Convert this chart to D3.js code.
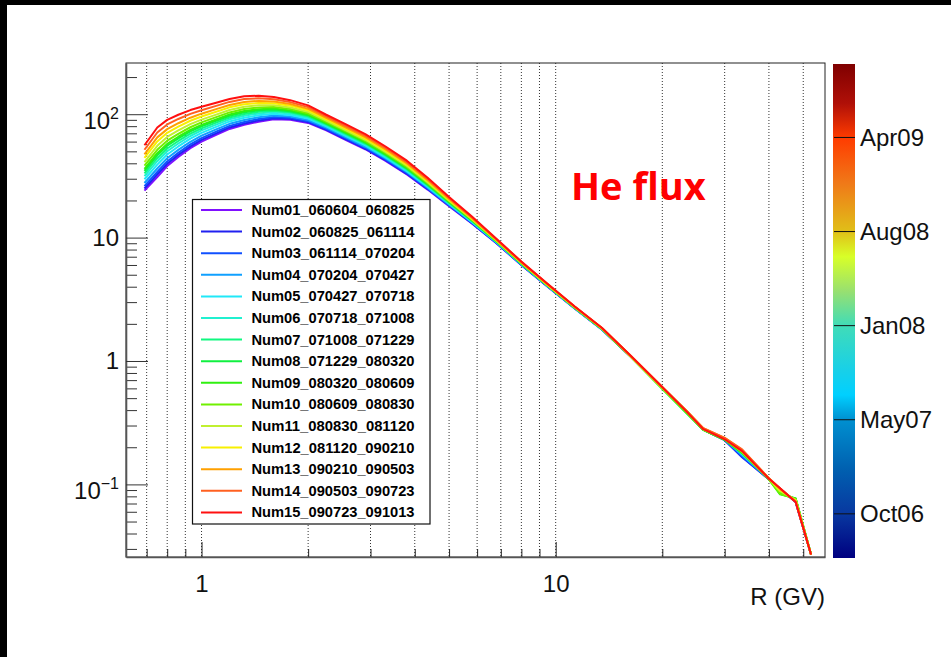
<!DOCTYPE html>
<html>
<head>
<meta charset="utf-8">
<script src="https://cdn.jsdelivr.net/npm/d3@7"></script>
<style>
body { margin: 0; background: #fff; }
svg { display: block; font-family: "Liberation Sans", Arial, Helvetica, sans-serif; }
</style>
</head>
<body>
<svg id="chart" width="951" height="657"></svg>
<script>
// rigidity bin centres (GV)
var rigidity = [0.69, 0.75, 0.80, 0.86, 0.93, 1.0, 1.1, 1.2, 1.32, 1.45, 1.6, 1.78, 2.0, 2.25, 2.55, 2.9, 3.3, 3.8, 4.35, 5.0,
                5.8, 6.8, 8.0, 9.5, 11.3, 13.5, 16.2, 19.5, 23.5, 26.1, 30, 33.6, 40, 43, 47.6, 52.6];

var seriesNames = ["Num01_060604_060825", "Num02_060825_061114", "Num03_061114_070204", "Num04_070204_070427",
                   "Num05_070427_070718", "Num06_070718_071008", "Num07_071008_071229", "Num08_071229_080320",
                   "Num09_080320_080609", "Num10_080609_080830", "Num11_080830_081120", "Num12_081120_090210",
                   "Num13_090210_090503", "Num14_090503_090723", "Num15_090723_091013"];

var seriesColors = ["#8010ff", "#2020f0", "#1050ff", "#10a0ff", "#20e8f8", "#20f0d0", "#10f880", "#10f040",
                    "#30f010", "#70f000", "#c0f030", "#f8f000", "#ffa000", "#ff6020", "#ff1010"];

// He flux per period
var flux01 = [24.0, 31.0, 38.0, 45.0, 53.0, 60.0, 68.0, 76.0, 82.0, 87.0, 91.0, 90.0, 85.0, 74.0, 62.0, 52.0, 42.0, 32.5, 24.5, 18.0, 13.0, 9.0, 6.0, 4.0, 2.68, 1.80, 1.10, 0.65, 0.385, 0.278, 0.228, 0.168, 0.11, 0.092, 0.072, 0.027];
var flux02 = [25.0, 32.5, 39.7, 46.8, 54.9, 62.0, 70.0, 78.1, 84.2, 89.1, 92.9, 91.7, 86.4, 75.1, 62.9, 52.7, 42.6, 32.9, 24.8, 18.2, 13.1, 9.05, 6.0, 4.0, 2.68, 1.80, 1.10, 0.65, 0.385, 0.278, 0.228, 0.166, 0.11, 0.092, 0.072, 0.027];
var flux03 = [26.1, 34.0, 41.4, 48.7, 56.9, 64.0, 72.2, 80.4, 86.5, 91.4, 94.8, 93.4, 87.8, 76.2, 63.9, 53.5, 43.2, 33.4, 25.0, 18.3, 13.2, 9.1, 6.05, 4.02, 2.69, 1.81, 1.10, 0.655, 0.39, 0.28, 0.23, 0.168, 0.11, 0.092, 0.072, 0.027];
var flux04 = [27.7, 36.3, 44.0, 51.4, 59.8, 67.0, 75.3, 83.6, 89.8, 94.5, 97.6, 95.8, 89.8, 77.8, 65.2, 54.5, 44.0, 34.0, 25.4, 18.5, 13.3, 9.15, 6.05, 4.03, 2.69, 1.81, 1.11, 0.655, 0.385, 0.28, 0.23, 0.172, 0.111, 0.091, 0.073, 0.027];
var flux05 = [29.7, 39.0, 47.1, 54.8, 63.3, 70.6, 79.0, 87.4, 93.7, 98.1, 101.0, 98.6, 92.2, 79.6, 66.7, 55.8, 44.9, 34.6, 25.9, 18.8, 13.4, 9.2, 6.1, 4.05, 2.7, 1.81, 1.11, 0.65, 0.38, 0.28, 0.232, 0.176, 0.111, 0.09, 0.074, 0.027];
var flux06 = [31.5, 41.6, 50.1, 57.9, 66.6, 73.9, 82.4, 90.9, 97.3, 101.5, 104.0, 101.3, 94.4, 81.2, 68.0, 56.9, 45.8, 35.3, 26.3, 19.0, 13.5, 9.25, 6.1, 4.06, 2.7, 1.82, 1.11, 0.65, 0.38, 0.28, 0.232, 0.178, 0.112, 0.088, 0.075, 0.027];
var flux07 = [33.1, 44.0, 52.7, 60.7, 69.5, 76.8, 85.4, 94.0, 100.5, 104.5, 106.6, 103.5, 96.3, 82.7, 69.3, 57.9, 46.5, 35.8, 26.6, 19.2, 13.7, 9.3, 6.15, 4.07, 2.71, 1.82, 1.11, 0.645, 0.375, 0.277, 0.23, 0.18, 0.112, 0.086, 0.076, 0.027];
var flux08 = [34.8, 46.5, 55.5, 63.7, 72.5, 79.9, 88.6, 97.2, 103.7, 107.6, 109.3, 105.8, 98.2, 84.1, 70.5, 58.9, 47.3, 36.4, 27.0, 19.4, 13.8, 9.35, 6.15, 4.08, 2.72, 1.82, 1.10, 0.64, 0.375, 0.277, 0.23, 0.18, 0.111, 0.084, 0.077, 0.027];
var flux09 = [36.0, 48.3, 57.5, 65.7, 74.6, 82.0, 90.7, 99.4, 106.0, 109.7, 111.1, 107.4, 99.5, 85.1, 71.3, 59.5, 47.8, 36.8, 27.2, 19.5, 13.8, 9.35, 6.2, 4.09, 2.72, 1.83, 1.10, 0.64, 0.375, 0.277, 0.23, 0.18, 0.11, 0.083, 0.077, 0.027];
var flux10 = [38.3, 51.5, 61.0, 69.4, 78.4, 85.8, 94.6, 103.4, 110.0, 113.4, 114.4, 110.2, 101.8, 86.9, 72.8, 60.7, 48.7, 37.4, 27.6, 19.7, 14.0, 9.4, 6.2, 4.1, 2.73, 1.83, 1.10, 0.645, 0.38, 0.278, 0.232, 0.182, 0.11, 0.084, 0.076, 0.027];
var flux11 = [40.9, 55.4, 65.4, 73.9, 83.0, 90.4, 99.3, 108.1, 114.9, 118.0, 118.3, 113.5, 104.6, 88.9, 74.5, 62.1, 49.8, 38.2, 28.1, 20.0, 14.1, 9.5, 6.25, 4.12, 2.74, 1.84, 1.11, 0.65, 0.385, 0.28, 0.234, 0.185, 0.111, 0.088, 0.075, 0.027];
var flux12 = [44.2, 60.2, 70.7, 79.4, 88.5, 95.8, 104.8, 113.7, 120.5, 123.2, 122.9, 117.3, 107.6, 91.2, 76.4, 63.8, 51.0, 39.1, 28.7, 20.3, 14.3, 9.55, 6.3, 4.14, 2.75, 1.84, 1.11, 0.655, 0.39, 0.283, 0.236, 0.188, 0.112, 0.09, 0.074, 0.027];
var flux13 = [47.3, 64.9, 75.7, 84.5, 93.7, 101.0, 110.0, 118.9, 125.8, 128.1, 126.9, 120.8, 110.5, 93.4, 78.2, 65.2, 52.1, 39.9, 29.2, 20.6, 14.4, 9.6, 6.3, 4.16, 2.76, 1.85, 1.12, 0.66, 0.39, 0.285, 0.238, 0.19, 0.112, 0.092, 0.073, 0.027];
var flux14 = [51.5, 71.1, 82.6, 91.5, 100.6, 107.8, 116.8, 125.8, 132.7, 134.4, 132.4, 125.3, 114.2, 96.2, 80.6, 67.1, 53.5, 40.9, 29.8, 20.9, 14.6, 9.7, 6.35, 4.18, 2.77, 1.85, 1.12, 0.66, 0.39, 0.285, 0.238, 0.192, 0.112, 0.093, 0.072, 0.027];
var flux15 = [56.0, 78.0, 90.0, 99.0, 108.0, 115.0, 124.0, 133.0, 140.0, 141.0, 138.0, 130.0, 118.0, 99.0, 83.0, 69.0, 55.0, 42.0, 30.5, 21.3, 14.8, 9.8, 6.4, 4.2, 2.78, 1.86, 1.12, 0.66, 0.385, 0.28, 0.232, 0.186, 0.111, 0.093, 0.072, 0.027];

var fluxSeries = [flux01, flux02, flux03, flux04, flux05, flux06, flux07, flux08,
                  flux09, flux10, flux11, flux12, flux13, flux14, flux15];

// ticks
var xGridTicks = [0.7, 0.8, 0.9, 1, 2, 3, 4, 5, 6, 7, 8, 9, 10, 20, 30, 40, 50];
var xLabelTicks = [1, 10];
var yLabelTicks = [0.1, 1, 10, 100];
var ySuperscripts = ["\u22121", null, null, "2"];

// colour palette axis (time)
var paletteRange = [new Date(2006, 5, 30), new Date(2009, 9, 9)];
var paletteTicks = [new Date(2006, 9, 15), new Date(2007, 4, 31), new Date(2008, 0, 14), new Date(2008, 7, 29), new Date(2009, 3, 14)];
var paletteOffsets = [0, 0.09, 0.18, 0.28, 0.33, 0.38, 0.47, 0.54, 0.61, 0.66, 0.76, 0.85, 0.92, 1];
var paletteColours = ["#000080", "#0838a0", "#0060b0", "#0090d0", "#00d0ff", "#18d0e8", "#40dcb8", "#98e070",
                      "#d8ff28", "#e0c018", "#f07818", "#ff3c00", "#b01008", "#7f0000"];

var svg = d3.select("#chart"),
    width = +svg.attr("width"),
    height = +svg.attr("height");

svg.append("rect").attr("width", width).attr("height", height).attr("fill", "#fff");
// black edges of the canvas
svg.append("rect").attr("x", 0).attr("y", 0).attr("width", width).attr("height", 5).attr("fill", "#000");
svg.append("rect").attr("x", 0).attr("y", 0).attr("width", 7).attr("height", height).attr("fill", "#000");

var frame = {left: 126, right: 825, top: 63, bottom: 557};

var x = d3.scaleLog().domain([0.612, 57.6]).range([frame.left, frame.right]);
var y = d3.scaleLog().domain([0.0258, 260]).range([frame.bottom, frame.top]);

// vertical dotted grid
svg.append("g")
    .selectAll("line")
    .data(xGridTicks)
    .enter()
    .append("line")
        .attr("x1", d => x(d))
        .attr("x2", d => x(d))
        .attr("y1", frame.top)
        .attr("y2", frame.bottom)
        .attr("stroke", "#333")
        .attr("stroke-width", 1)
        .attr("stroke-dasharray", "1,2");

// curves
svg.append("clipPath").attr("id", "plotclip")
    .append("rect")
        .attr("x", frame.left)
        .attr("y", frame.top)
        .attr("width", frame.right - frame.left)
        .attr("height", frame.bottom - frame.top);

var line = d3.line()
    .x((d, i) => x(rigidity[i]))
    .y(d => y(d));

svg.append("g")
    .attr("clip-path", "url(#plotclip)")
    .selectAll("path")
    .data(fluxSeries)
    .enter()
    .append("path")
        .attr("d", line)
        .attr("fill", "none")
        .attr("stroke", (d, i) => seriesColors[i])
        .attr("stroke-width", 2)
        .attr("stroke-linejoin", "round");

// frame
svg.append("rect")
    .attr("x", frame.left)
    .attr("y", frame.top)
    .attr("width", frame.right - frame.left)
    .attr("height", frame.bottom - frame.top)
    .attr("fill", "none")
    .attr("stroke", "#222")
    .attr("stroke-width", 1);

// x axis: minor then major ticks
var xMinor = xGridTicks.filter(d => xLabelTicks.indexOf(d) < 0);
svg.append("g")
    .attr("transform", "translate(0," + frame.bottom + ")")
    .call(d3.axisBottom(x).tickValues(xMinor).tickSize(-8).tickSizeOuter(0).tickFormat(""))
    .call(g => g.select(".domain").remove())
    .call(g => g.selectAll("line").attr("stroke", "#222"));

var xAxis = svg.append("g")
    .attr("transform", "translate(0," + frame.bottom + ")")
    .call(d3.axisBottom(x).tickValues(xLabelTicks).tickSize(-15).tickSizeOuter(0).tickPadding(18).tickFormat(d3.format("d")))
    .attr("font-family", null)
    .attr("font-size", 24);
xAxis.select(".domain").attr("stroke", "#555").attr("stroke-width", 1.6);
xAxis.selectAll("line").attr("stroke", "#222");
xAxis.selectAll("text").attr("fill", "#111");

// y axis
var yMinor = y.ticks().filter(d => yLabelTicks.indexOf(d) < 0 && Math.abs(Math.log10(d) - Math.round(Math.log10(d))) > 1e-6);
svg.append("g")
    .attr("transform", "translate(" + frame.left + ",0)")
    .call(d3.axisLeft(y).tickValues(yMinor).tickSize(-11).tickSizeOuter(0).tickFormat(""))
    .call(g => g.select(".domain").remove())
    .call(g => g.selectAll("line").attr("stroke", "#333"));

var yAxis = svg.append("g")
    .attr("transform", "translate(" + frame.left + ",0)")
    .call(d3.axisLeft(y).tickValues(yLabelTicks).tickSize(-22).tickSizeOuter(0).tickPadding(7))
    .attr("font-family", null)
    .attr("font-size", 24);
yAxis.select(".domain").attr("stroke", "#555").attr("stroke-width", 1.6);
yAxis.selectAll("line").attr("stroke", "#333");
yAxis.selectAll(".tick text").each(function(d, i) {
    var t = d3.select(this).text("").attr("fill", "#111");
    var sup = ySuperscripts[i];
    if (sup) {
        t.attr("dy", "0.58em");
        t.append("tspan").text("10");
        t.append("tspan").attr("font-size", 16).attr("dy", -10).text(sup);
    } else {
        t.text(d3.format("d")(d));
    }
});

svg.append("text")
    .attr("x", frame.right)
    .attr("y", 605)
    .attr("text-anchor", "end")
    .attr("font-size", 24)
    .attr("fill", "#111")
    .text("R (GV)");

// colour palette bar
var bar = {x: 833, w: 22, top: 64, bottom: 558};
var tScale = d3.scaleTime().domain(paletteRange).range([bar.bottom, bar.top]);

var grad = svg.append("defs").append("linearGradient")
    .attr("id", "palette")
    .attr("x1", 0).attr("y1", 1).attr("x2", 0).attr("y2", 0);
grad.selectAll("stop")
    .data(paletteOffsets)
    .enter()
    .append("stop")
        .attr("offset", d => d)
        .attr("stop-color", (d, i) => paletteColours[i]);

svg.append("rect")
    .attr("x", bar.x)
    .attr("y", bar.top)
    .attr("width", bar.w)
    .attr("height", bar.bottom - bar.top)
    .attr("fill", "url(#palette)");

svg.append("g")
    .selectAll("line")
    .data(paletteTicks)
    .enter()
    .append("line")
        .attr("x1", bar.x + 1)
        .attr("x2", bar.x + bar.w)
        .attr("y1", d => tScale(d))
        .attr("y2", d => tScale(d))
        .attr("stroke", "#111")
        .attr("stroke-width", 1);

svg.append("g")
    .attr("transform", "translate(" + (bar.x + bar.w) + ",0)")
    .call(d3.axisRight(tScale).tickValues(paletteTicks).tickSize(0).tickPadding(5).tickFormat(d3.timeFormat("%b%y")))
    .attr("font-family", null)
    .attr("font-size", 24)
    .call(g => g.select(".domain").remove())
    .call(g => g.selectAll("text").attr("fill", "#111"));

// legend
var legend = {x: 192.5, y: 199.5, w: 237.5, h: 324.5, row0: 210, step: 21.6};
svg.append("rect")
    .attr("x", legend.x)
    .attr("y", legend.y)
    .attr("width", legend.w)
    .attr("height", legend.h)
    .attr("fill", "#fff")
    .attr("stroke", "#111")
    .attr("stroke-width", 1.2);

var rows = svg.append("g")
    .selectAll("g")
    .data(seriesNames)
    .enter()
    .append("g")
        .attr("transform", (d, i) => "translate(0," + (legend.row0 + i * legend.step) + ")");

rows.append("line")
    .attr("x1", 201)
    .attr("x2", 242)
    .attr("stroke", (d, i) => seriesColors[i])
    .attr("stroke-width", 2);

rows.append("text")
    .attr("x", 251.5)
    .attr("dy", "0.36em")
    .attr("font-size", 14)
    .attr("font-weight", "bold")
    .attr("fill", "#000")
    .attr("textLength", 163)
    .attr("lengthAdjust", "spacingAndGlyphs")
    .text(d => d);

// title
svg.append("text")
    .attr("x", 571)
    .attr("y", 200)
    .attr("font-family", "'Open Sans', 'Liberation Sans', sans-serif")
    .attr("font-weight", "bold")
    .attr("font-size", 38)
    .attr("fill", "#ff0000")
    .text("He flux");
</script>
</body>
</html>
